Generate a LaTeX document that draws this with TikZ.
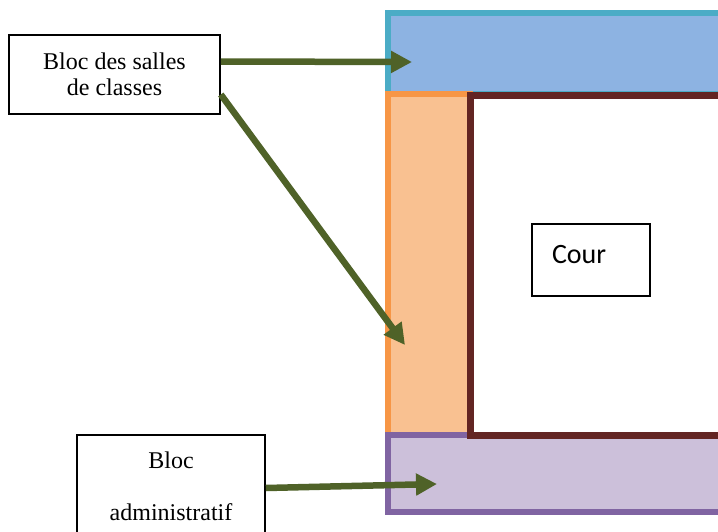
\documentclass[tikz,border=0pt]{standalone}
\usepackage{fontspec}
\setmainfont{Liberation Serif}
\newfontfamily\calib{Carlito}
\usetikzlibrary{arrows.meta,positioning,calc}
\definecolor{blocblue}{HTML}{8DB3E2}
\definecolor{bloccyan}{HTML}{4BACC6}
\definecolor{blocpeach}{HTML}{F9C191}
\definecolor{blocorange}{HTML}{F79646}
\definecolor{courred}{HTML}{632523}
\definecolor{blocmauve}{HTML}{CCC0DA}
\definecolor{blocpurple}{HTML}{8064A2}
\definecolor{olive}{HTML}{4F6228}

\begin{document}
\begin{tikzpicture}[
  x=1pt, y=-1pt,
  font=\fontsize{24}{26}\selectfont,
  bloc/.style={line width=6pt, line join=miter},
  cadre/.style={draw, line width=1.6pt, align=center, inner sep=0pt},
  arr/.style={-{Triangle[length=21pt,width=21pt]}, line width=6.5pt, draw=olive, fill=olive}
]
  \useasboundingbox (0,0) rectangle (718,531);
  \clip (0,0) rectangle (718,531);
  \fill[white] (0,0) rectangle (718,531);

  % blocs du plan
  \draw[bloc, draw=bloccyan, fill=blocblue] (388,13) rectangle (740,94);
  \draw[bloc, draw=blocorange, fill=blocpeach] (388,94) rectangle (470,435);
  \draw[bloc, draw=blocpurple, fill=blocmauve] (388,435) rectangle (740,512);
  \draw[line width=7pt, draw=courred, fill=white] (470,95) rectangle (740,435);

  \node[cadre, minimum width=118pt, minimum height=72pt, align=left,
        text width=78pt, inner xsep=20pt, text height=38pt, text depth=32pt,
        font=\calib\fontsize{28}{30}\selectfont] (cour) at (591,260) {Cour};

  % etiquettes
  \node[cadre, minimum width=211pt, minimum height=79pt] (classes) at (114.5,74.5)
    {Bloc des salles\\de classes};
  \node[cadre, minimum width=188pt, minimum height=102pt,
        font=\fontsize{24}{52}\selectfont] (admin) at (171,486)
    {Bloc\\administratif};

  \coordinate (tipA) at (412,62);
  \coordinate (tipB) at (405,345);
  \coordinate (tipC) at (437,484);

  \draw[arr] ([yshift=13pt]classes.east) -- (tipA);
  \draw[arr] ([yshift=-20pt]classes.east) -- (tipB);
  \draw[arr] ([yshift=-2pt]admin.east) -- (tipC);
\end{tikzpicture}
\end{document}
